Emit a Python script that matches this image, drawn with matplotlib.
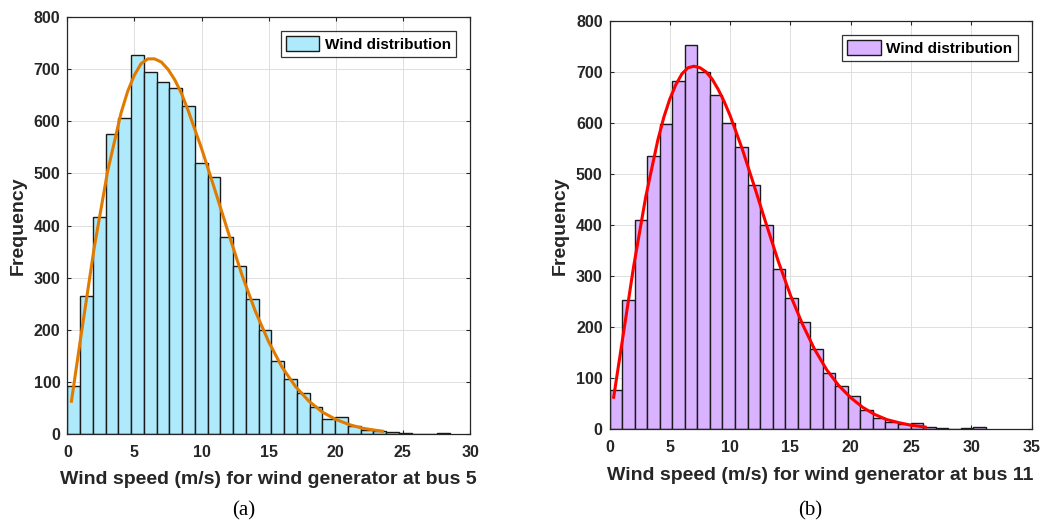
import numpy as np
import matplotlib.pyplot as plt

# histogram counts, bus 5 generator (bin width 0.95 m/s starting at 0)
bus5_bin_width = 0.95
bus5_counts = [92, 265, 417, 576, 606, 727, 694, 676, 665, 629, 520, 493, 379, 323, 260,
               200, 140, 105, 79, 52, 29, 32, 15, 8, 6, 3, 1, 0, 0, 1]
# fitted density curve, scaled to counts
bus5_fit_x = [0.29, 1, 2, 3, 4, 4.5, 5, 5.5, 6, 6.5, 7, 7.5, 8, 8.5, 9, 10, 11, 12, 13,
              14, 15, 16, 17, 18, 19, 20, 21, 22, 23, 23.6]
bus5_fit_y = [60, 185, 357, 504, 616, 658, 689, 711, 720, 720, 714, 700, 680, 654, 621,
              548, 468, 386, 306, 236, 177, 128, 91, 63, 42, 28, 18, 11, 7, 5]

# histogram counts, bus 11 generator (bin width 1.04 m/s starting at 0)
bus11_bin_width = 1.04
bus11_counts = [77, 253, 410, 535, 599, 684, 754, 700, 656, 600, 553, 479, 401, 315, 258,
                210, 158, 110, 85, 66, 38, 23, 15, 11, 12, 4, 2, 0, 2, 4]
bus11_fit_x = [0.32, 1, 2, 3, 4, 4.5, 5, 5.5, 6, 6.5, 7, 7.5, 8, 8.5, 9, 9.5, 10, 11, 12,
               13, 14, 15, 16, 17, 18, 19, 20, 21, 22, 23, 24, 25, 26, 26.3]
bus11_fit_y = [60, 165, 320, 456, 567, 612, 648, 676, 697, 709, 712, 709, 701, 687, 667,
               643, 615, 550, 477, 402, 329, 263, 206, 157, 117, 86, 62, 43, 29, 19, 13,
               8, 5, 4]

plt.rcParams['font.family'] = ['Liberation Sans', 'DejaVu Sans']
plt.rcParams['font.weight'] = 'bold'

dark = '#262626'


def draw_panel(ax, counts, width, fit_x, fit_y, face, line_color, xmax, xlabel):
    edges = np.arange(len(counts)) * width
    bars = ax.bar(edges, counts, width=width, align='edge', color=face,
                  edgecolor='#1a1a1a', linewidth=1.0, label='Wind distribution', zorder=2)
    ax.plot(fit_x, fit_y, color=line_color, linewidth=2.2, zorder=3,
            solid_joinstyle='round', solid_capstyle='butt')
    ax.set_xlim(0, xmax)
    ax.set_ylim(0, 800)
    ax.set_xticks(np.arange(0, xmax + 1, 5))
    ax.set_yticks(np.arange(0, 801, 100))
    ax.grid(True, color='#dedede', linewidth=0.7, zorder=0)
    ax.set_axisbelow(True)
    ax.tick_params(direction='in', length=3, width=0.8, top=True, right=True,
                   labelsize=11.5, colors=dark)
    ax.tick_params(axis='x', pad=8)
    ax.tick_params(axis='y', pad=5)
    for lab in ax.get_xticklabels() + ax.get_yticklabels():
        lab.set_fontweight('bold')
    for sp in ax.spines.values():
        sp.set_color(dark)
        sp.set_linewidth(0.9)
    ax.set_xlabel(xlabel, fontsize=14, fontweight='bold', color=dark, labelpad=8)
    ax.set_ylabel('Frequency', fontsize=14, fontweight='bold', color=dark, labelpad=5)
    leg = ax.legend(handles=[bars], loc='upper right', fontsize=11, frameon=True,
                    fancybox=False, edgecolor='black', borderaxespad=0.9,
                    handlelength=2.2, handleheight=1.1, handletextpad=0.35,
                    borderpad=0.35)
    leg.get_frame().set_linewidth(0.9)
    for t in leg.get_texts():
        t.set_fontweight('bold')
        t.set_color('black')


fig = plt.figure(figsize=(10.42, 5.21), dpi=100)
ax1 = fig.add_axes([0.0646, 0.167, 0.3865, 0.800])
ax2 = fig.add_axes([0.585, 0.176, 0.405, 0.783])

draw_panel(ax1, bus5_counts, bus5_bin_width, bus5_fit_x, bus5_fit_y,
           '#aeeafb', '#e07b00', 30, 'Wind speed (m/s) for wind generator at bus 5')
draw_panel(ax2, bus11_counts, bus11_bin_width, bus11_fit_x, bus11_fit_y,
           '#d9b3ff', '#ff0000', 35, 'Wind speed (m/s) for wind generator at bus 11')

fig.text(0.234, 0.019, '(a)', fontsize=15, fontweight='normal',
         family=['Liberation Serif'], ha='center', va='center')
fig.text(0.778, 0.019, '(b)', fontsize=15, fontweight='normal',
         family=['Liberation Serif'], ha='center', va='center')

fig.savefig('out.png', dpi=100)
